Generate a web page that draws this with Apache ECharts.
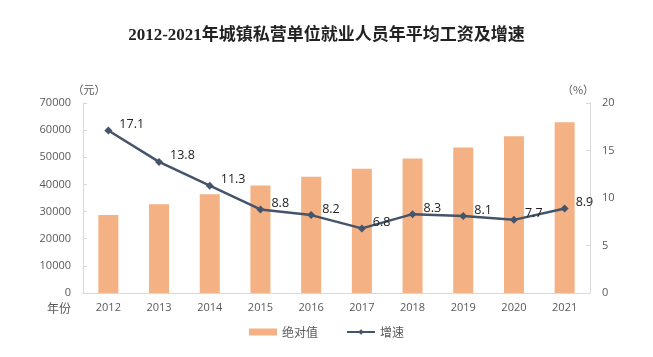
<!DOCTYPE html>
<html><head><meta charset="utf-8">
<script src="https://cdn.jsdelivr.net/npm/echarts@6/dist/echarts.min.js"></script>
<style>html,body{margin:0;padding:0;background:#fff}#c{width:653px;height:357px}</style>
</head><body><div id="c"></div>
<script>
const years = ['2012','2013','2014','2015','2016','2017','2018','2019','2020','2021'];
const wage = [28752, 32706, 36390, 39589, 42833, 45761, 49575, 53604, 57727, 62884];
const growth = [17.1, 13.8, 11.3, 8.8, 8.2, 6.8, 8.3, 8.1, 7.7, 8.9];
const leftTicks = [0, 70000, 10000];
const rightTicks = [0, 20, 5];

const chart = echarts.init(document.getElementById('c'));
const gray = '#595959';
chart.setOption({
  animation: false,
  title: {
    text: '2012-2021年城镇私营单位就业人员年平均工资及增速',
    left: 'center', top: 22,
    textStyle: {fontFamily: '"Liberation Serif","Noto Sans CJK SC"', fontSize: 17, fontWeight: 'bold', color: '#222'}
  },
  legend: {
    bottom: 14, left: 'center', itemGap: 28, itemWidth: 28, itemHeight: 7,
    textStyle: {color: gray, fontSize: 12, fontFamily: '"Noto Sans CJK SC"'},
    data: [{name: '绝对值', icon: 'rect'}, {name: '增速'}]
  },
  grid: {left: 83, right: 63, top: 103, bottom: 64},
  xAxis: {
    type: 'category', data: years,
    axisLine: {lineStyle: {color: '#d9d9d9'}},
    axisTick: {show: false},
    axisLabel: {color: gray, fontSize: 11, margin: 9, fontFamily: '"Open Sans",sans-serif'},
    name: '年份', nameLocation: 'start', nameGap: 12,
    nameTextStyle: {color: gray, fontSize: 12, verticalAlign: 'top', padding: [9, 0, 0, 0], fontFamily: '"Noto Sans CJK SC"'}
  },
  yAxis: [{
    type: 'value', min: leftTicks[0], max: leftTicks[1], interval: leftTicks[2],
    axisLine: {show: true, lineStyle: {color: '#d9d9d9'}},
    axisTick: {show: true, inside: true, length: 4, lineStyle: {color: '#d9d9d9'}},
    splitLine: {show: false},
    axisLabel: {color: gray, fontSize: 11, margin: 12, fontFamily: '"Open Sans",sans-serif', formatter: v => String(v)},
    name: '（元）', nameGap: 8,
    nameTextStyle: {color: gray, fontSize: 11, align: 'center', padding: [0, 0, 0, 12], fontFamily: '"Noto Sans CJK SC"'}
  }, {
    type: 'value', min: rightTicks[0], max: rightTicks[1], interval: rightTicks[2],
    axisLine: {show: true, lineStyle: {color: '#d9d9d9'}},
    axisTick: {show: true, inside: true, length: 4, lineStyle: {color: '#d9d9d9'}},
    splitLine: {show: false},
    axisLabel: {color: gray, fontSize: 11, margin: 12, fontFamily: '"Open Sans",sans-serif'},
    name: '（%）', nameGap: 8,
    nameTextStyle: {color: gray, fontSize: 11, align: 'center', padding: [0, 24, 0, 0], fontFamily: '"Noto Sans CJK SC"'}
  }],
  series: [{
    name: '绝对值', type: 'bar', data: wage, barWidth: 20,
    itemStyle: {color: '#F4B183'}
  }, {
    name: '增速', type: 'line', yAxisIndex: 1, data: growth,
    symbol: 'diamond', symbolSize: 8,
    lineStyle: {color: '#44546A', width: 2.5},
    itemStyle: {color: '#44546A'},
    label: {show: true, position: 'right', distance: 7, offset: [0, -6], color: '#222', fontSize: 12.5, fontFamily: '"Open Sans",sans-serif'}
  }]
});
</script></body></html>
